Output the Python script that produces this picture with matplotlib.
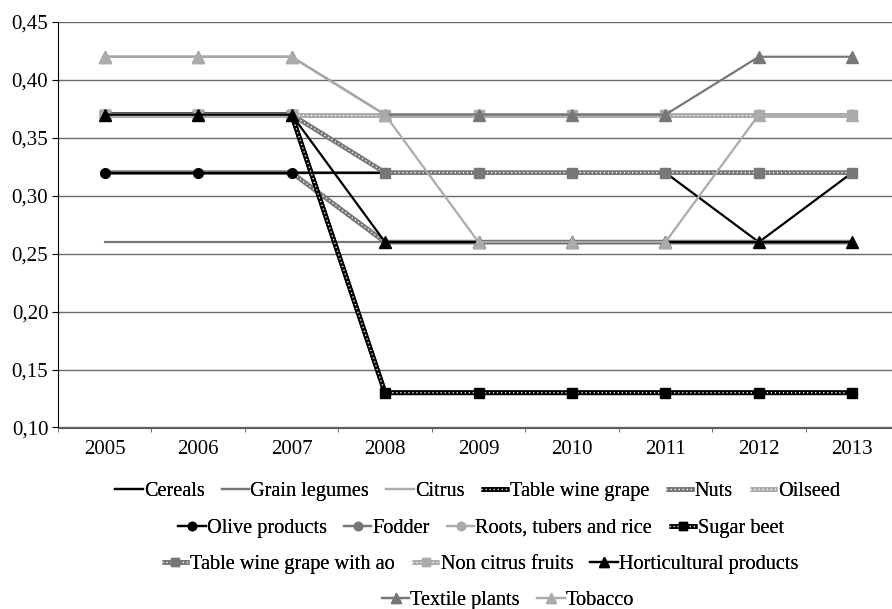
"""
Coefficients by crop group, 2005-2013
"""

import numpy as np
import matplotlib
matplotlib.use("Agg")
import matplotlib.pyplot as plt
import matplotlib.ticker as ticker
from matplotlib.legend_handler import HandlerTuple

plt.rcParams['font.family'] = ['Liberation Serif', 'DejaVu Serif']
plt.rcParams['font.size'] = 15

years = ["2005", "2006", "2007", "2008", "2009", "2010", "2011", "2012", "2013"]

cereals       = [0.32, 0.32, 0.32, 0.32, 0.32, 0.32, 0.32, 0.26, 0.32]
grain_legumes = [0.26, 0.26, 0.26, 0.26, 0.26, 0.26, 0.26, 0.26, 0.26]
citrus        = [0.37, 0.37, 0.37, 0.37, 0.37, 0.37, 0.37, 0.37, 0.37]
table_wine    = [0.37, 0.37, 0.37, 0.13, 0.13, 0.13, 0.13, 0.13, 0.13]
nuts          = [0.32, 0.32, 0.32, 0.26, 0.26, 0.26, 0.26, 0.26, 0.26]
oilseed       = [0.37, 0.37, 0.37, 0.37, 0.37, 0.37, 0.37, 0.37, 0.37]
olive         = [0.32, 0.32, 0.32, 0.32, 0.32, 0.32, 0.32, 0.32, 0.32]
fodder        = [0.37, 0.37, 0.37, 0.32, 0.32, 0.32, 0.32, 0.32, 0.32]
roots         = [0.37, 0.37, 0.37, 0.37, 0.37, 0.37, 0.37, 0.37, 0.37]
sugar_beet    = [0.37, 0.37, 0.37, 0.13, 0.13, 0.13, 0.13, 0.13, 0.13]
table_wine_ao = [0.37, 0.37, 0.37, 0.32, 0.32, 0.32, 0.32, 0.32, 0.32]
non_citrus    = [0.37, 0.37, 0.37, 0.37, 0.37, 0.37, 0.37, 0.37, 0.37]
horticultural = [0.37, 0.37, 0.37, 0.26, 0.26, 0.26, 0.26, 0.26, 0.26]
textile       = [0.42, 0.42, 0.42, 0.37, 0.37, 0.37, 0.37, 0.42, 0.42]
tobacco       = [0.42, 0.42, 0.42, 0.37, 0.26, 0.26, 0.26, 0.37, 0.37]

BLACK = '#000000'
DARK = '#777777'
LIGHT = '#ababab'

# label, values, colour, marker, dotted line
series = [
    ("Cereals", cereals, BLACK, None, False),
    ("Grain legumes", grain_legumes, DARK, None, False),
    ("Citrus", citrus, LIGHT, None, False),
    ("Table wine grape", table_wine, BLACK, None, True),
    ("Nuts", nuts, DARK, None, True),
    ("Oilseed", oilseed, LIGHT, None, True),
    ("Olive products", olive, BLACK, 'o', False),
    ("Fodder", fodder, DARK, 'o', False),
    ("Roots, tubers and rice", roots, LIGHT, 'o', False),
    ("Sugar beet", sugar_beet, BLACK, 's', True),
    ("Table wine grape with ao", table_wine_ao, DARK, 's', True),
    ("Non citrus fruits", non_citrus, LIGHT, 's', True),
    ("Horticultural products", horticultural, BLACK, '^', False),
    ("Textile plants", textile, DARK, '^', False),
    ("Tobacco", tobacco, LIGHT, '^', False),
]

fig = plt.figure(figsize=(8.92, 6.09), dpi=100)
ax = fig.add_axes([58/892, 1-427.5/609, 841/892, 405.5/609])

x = np.arange(len(years))
handles = []
labels = []
z = 2
for name, vals, col, mk, dotted in series:
    ms = {'o': 7, 's': 7, '^': 9, None: 0}[mk]
    if dotted:
        # thick coloured line with small white dots on it
        base, = ax.plot(x, vals, color=col, lw=3.4, solid_capstyle='butt', zorder=z)
        dots, = ax.plot(x, vals, color='white', lw=1.0, ls=(0, (0.9, 2.0)), zorder=z + 0.1)
        parts = [base, dots]
        if mk:
            mks, = ax.plot(x, vals, ls='none', marker=mk, ms=ms, mfc=col, mec=col, zorder=z + 0.2)
            parts.append(mks)
        handles.append(tuple(parts))
    else:
        h, = ax.plot(x, vals, color=col, lw=1.6, marker=mk, ms=ms,
                     mfc=col, mec=col, zorder=z)
        handles.append(h)
    labels.append(name)
    z += 0.3

ax.set_xlim(-0.5, len(years)-0.5)
ax.set_ylim(0.10, 0.45)
ax.set_xticks(x)
ax.set_xticklabels(years)
ax.set_xticks(np.arange(-0.5, len(years), 1.0), minor=True)
ax.tick_params(axis='x', which='major', length=0, pad=9)
ax.tick_params(axis='x', which='minor', length=3, direction='out', color='#555555')
ax.set_yticks(np.arange(0.10, 0.451, 0.05))
ax.yaxis.set_major_formatter(ticker.FuncFormatter(lambda v, p: ("%.2f" % v).replace('.', ',')))
ax.tick_params(axis='y', length=4, direction='out', pad=3)
ax.yaxis.grid(True, color='#6a6a6a', lw=1.0)
ax.set_axisbelow(True)
for s in ['top', 'right']:
    ax.spines[s].set_visible(False)
ax.spines['left'].set_color('#000000')
ax.spines['bottom'].set_color('#555555')

# legend rows, each centred on its own
rows = [(0, 6, 491, 478), (6, 10, 528, 481), (10, 13, 564, 480), (13, 15, 600, 508)]
for a, b, ypix, xpix in rows:
    leg = fig.legend(handles=handles[a:b], labels=labels[a:b], loc='center',
                     bbox_to_anchor=(xpix/892, 1-ypix/609),
                     handler_map={tuple: HandlerTuple(ndivide=1)},
                     ncol=b-a, frameon=False, handlelength=1.35, handletextpad=0.05,
                     columnspacing=0.85, markerscale=0.85, fontsize=14.6, borderpad=0)
    fig.add_artist(leg)

fig.savefig("out.png", dpi=100)
